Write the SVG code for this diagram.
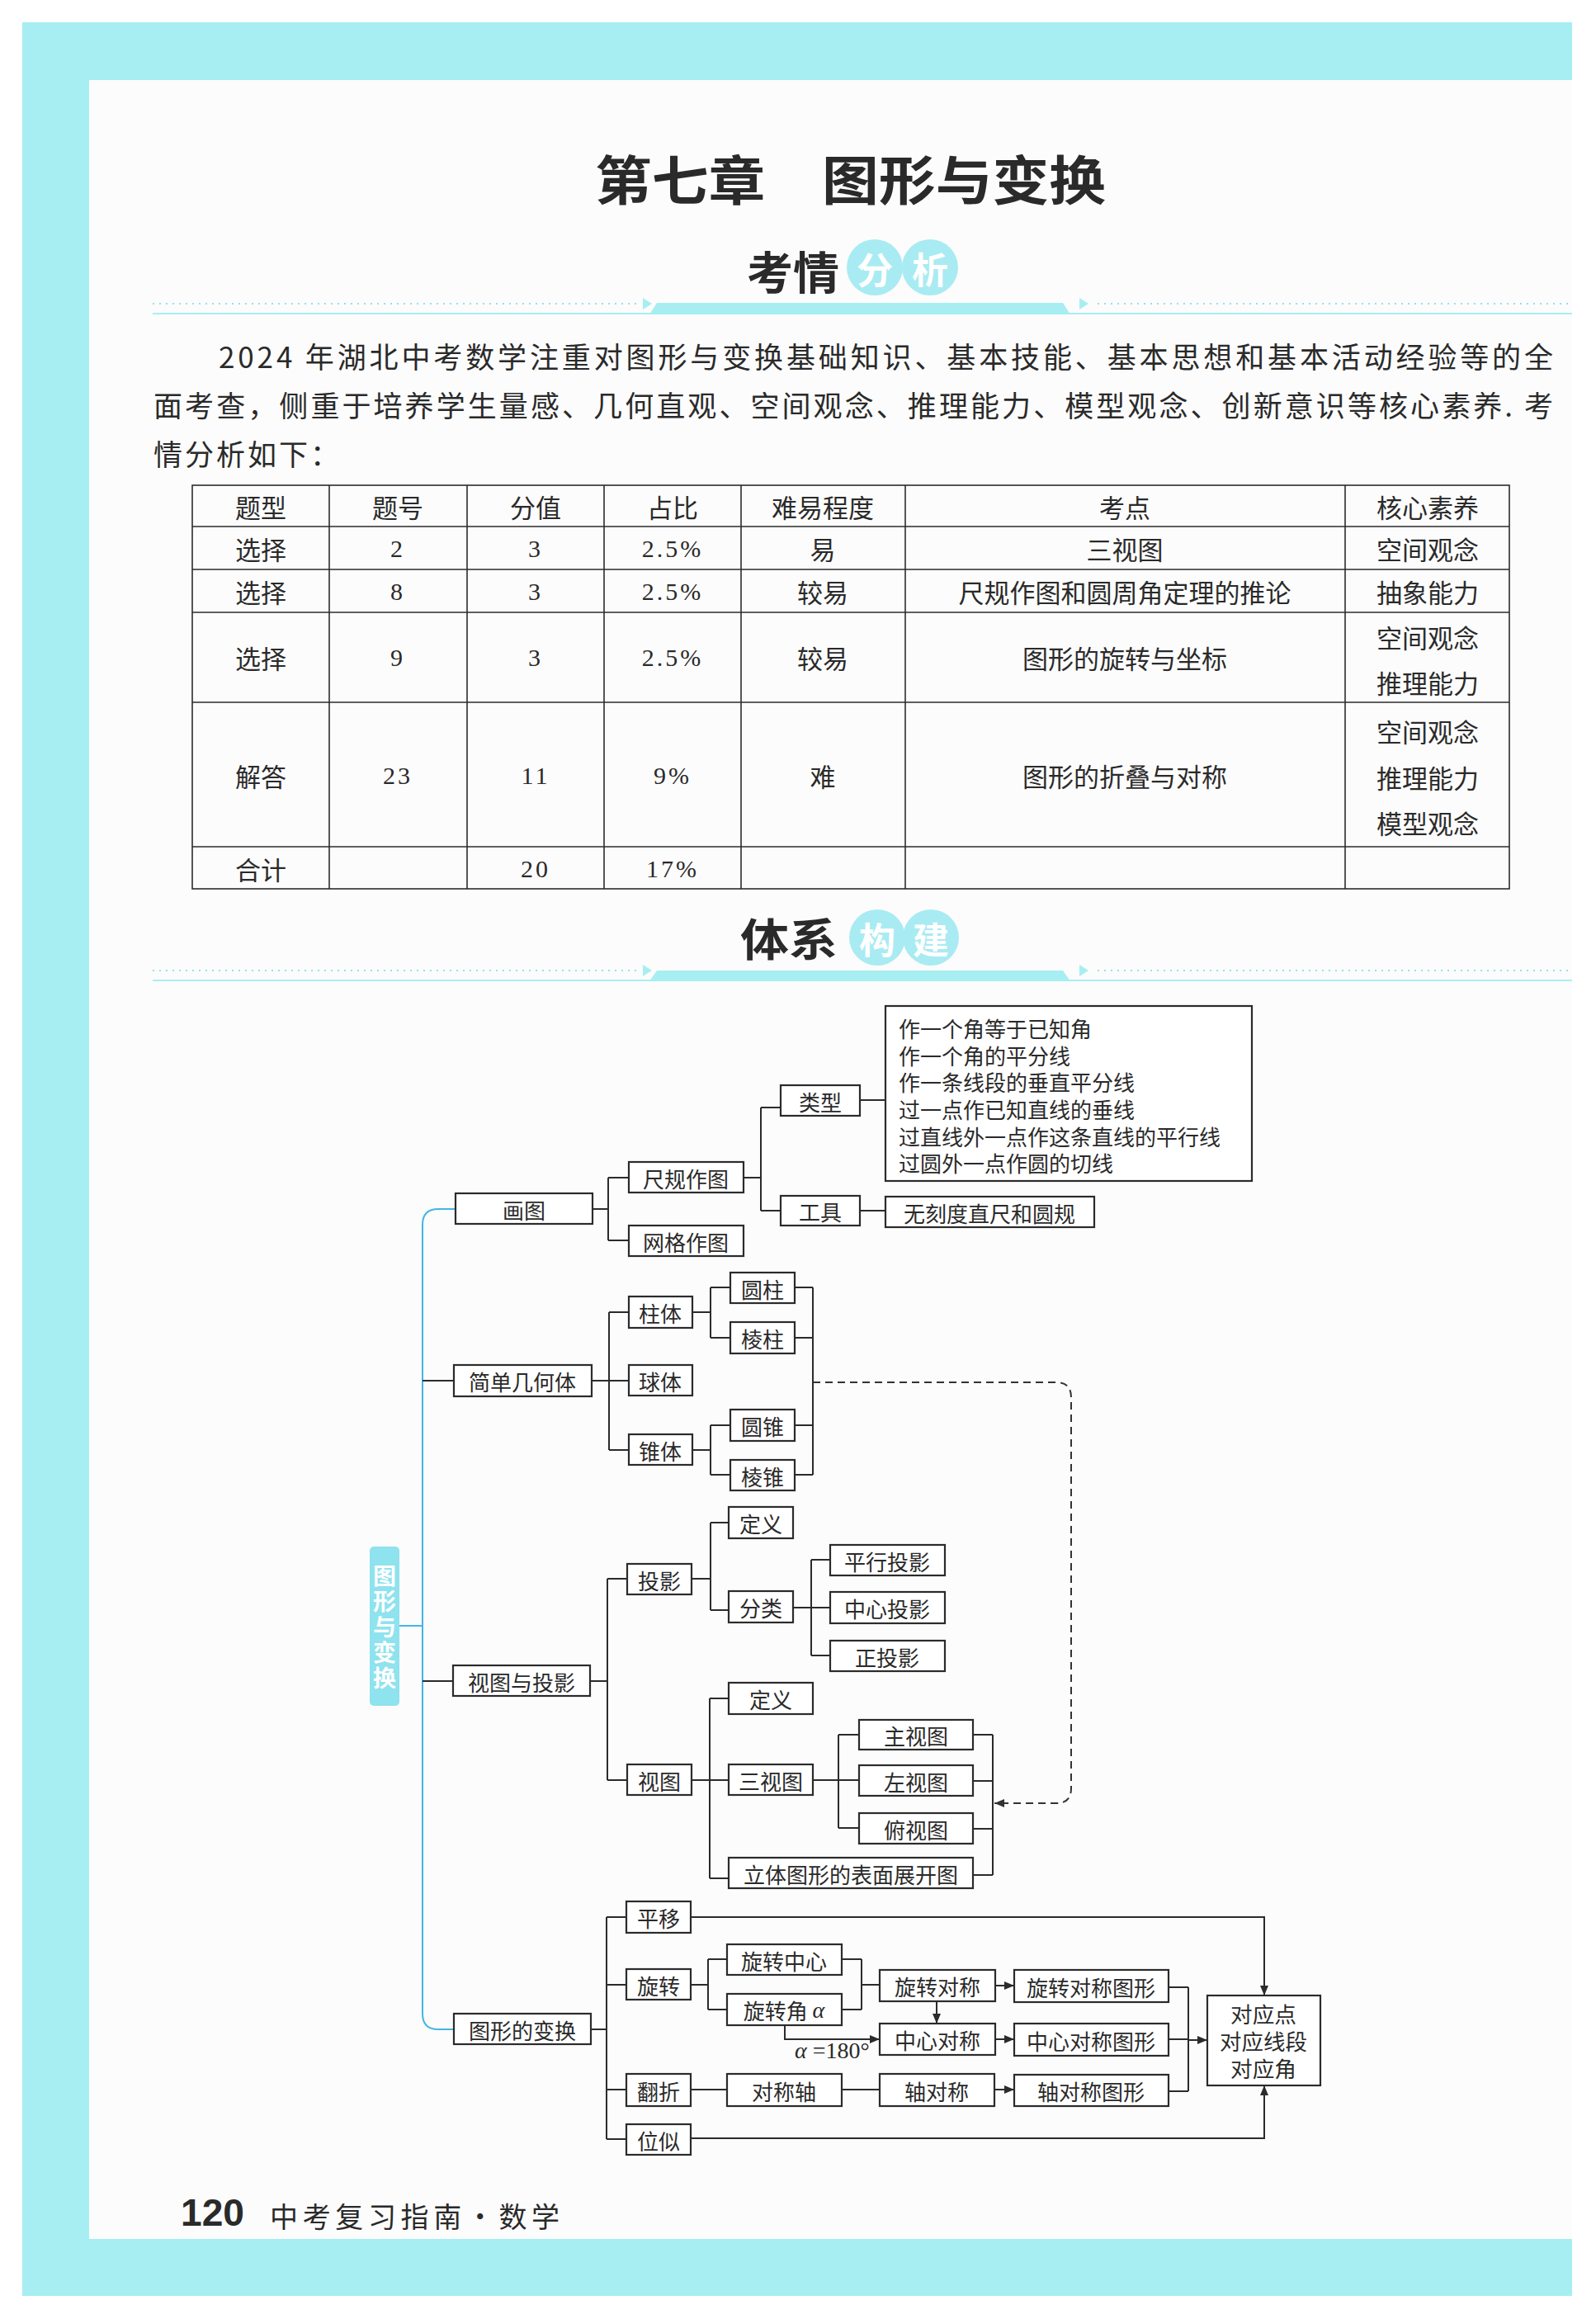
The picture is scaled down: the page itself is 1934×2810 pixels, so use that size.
<svg xmlns="http://www.w3.org/2000/svg" width="1934" height="2810" viewBox="0 0 1934 2810">
<defs>
<style>
.cjk{font-family:"Noto Sans CJK SC","Noto Sans",sans-serif}
.box{fill:#fff;stroke:#2b2b2b;stroke-width:2.2}
.t{font-family:"Noto Sans CJK SC","Noto Sans",sans-serif;font-size:26px;fill:#2a2a2a;text-anchor:middle;dominant-baseline:central}
.tl{font-family:"Noto Sans CJK SC","Noto Sans",sans-serif;font-size:26px;fill:#2a2a2a;dominant-baseline:central}
.ln{fill:none;stroke:#2b2b2b;stroke-width:2}
.dash{fill:none;stroke:#333;stroke-width:2;stroke-dasharray:9 6}
.blue{fill:none;stroke:#45b5e5;stroke-width:2}
.tb{fill:none;stroke:#2b2b2b;stroke-width:1.6}
.tc{font-family:"Noto Sans CJK SC","Noto Sans",sans-serif;font-size:31px;fill:#2a2a2a;text-anchor:middle;dominant-baseline:central}
.tn{font-family:"Liberation Serif",serif;font-size:30px;fill:#2a2a2a;text-anchor:middle;dominant-baseline:central;letter-spacing:3px}
.para{font-family:"Noto Sans CJK SC","Noto Sans",sans-serif;font-size:35px;fill:#2a2a2a;dominant-baseline:central}
.dot{fill:none;stroke:#8fe3ee;stroke-width:2;stroke-dasharray:2 6}
.cy{fill:#a7eef3}
.circ{fill:#a9ebf2}
.wt{font-family:"Noto Sans CJK SC","Noto Sans",sans-serif;font-weight:bold;fill:#fff;text-anchor:middle;dominant-baseline:central}
.hd{font-family:"Noto Sans CJK SC","Noto Sans",sans-serif;font-weight:bold;fill:#2a2a2a;dominant-baseline:central}
</style>
<marker id="ah" viewBox="0 0 12 10" refX="12" refY="5" markerWidth="12" markerHeight="10" markerUnits="userSpaceOnUse" orient="auto">
<path d="M0,0 L12,5 L0,10 z" fill="#2b2b2b"/>
</marker>
<marker id="ahd" viewBox="0 0 12 10" refX="12" refY="5" markerWidth="12" markerHeight="10" markerUnits="userSpaceOnUse" orient="auto">
<path d="M0,0 L12,5 L0,10 z" fill="#333"/>
</marker>
</defs>

<!-- page background -->
<rect x="0" y="0" width="1934" height="2810" fill="#fff"/>
<rect x="27" y="27" width="1878" height="2755" class="cy"/>
<rect x="108" y="97" width="1797" height="2616" fill="#fcfcfc"/>

<!-- title -->
<g id="title">
<text x="721" y="214" class="hd" font-size="64" textLength="619" lengthAdjust="spacingAndGlyphs">第七章　图形与变换</text>
</g>

<!-- section header 1 -->
<g id="header-kaoqing">
<text x="905" y="327" class="hd" font-size="54" textLength="112" lengthAdjust="spacingAndGlyphs">考情</text>
<circle cx="1060" cy="324" r="34" class="circ"/>
<circle cx="1127" cy="324" r="34" class="circ"/>
<text x="1060" y="325" class="wt" font-size="44">分</text>
<text x="1127" y="325" class="wt" font-size="44">析</text>
<line x1="185" y1="368" x2="774" y2="368" class="dot"/>
<path d="M779,361 L790,368 L779,375 z" class="cy"/>
<path d="M796,367 L1288,367 L1297,381 L787,381 z" class="cy"/>
<path d="M1308,361 L1319,368 L1308,375 z" class="cy"/>
<line x1="1330" y1="368" x2="1905" y2="368" class="dot"/>
<line x1="185" y1="380" x2="1905" y2="380" stroke="#a7eef3" stroke-width="2"/>
</g>

<!-- paragraph -->
<g id="paragraph">
<text x="265" y="430" class="para" textLength="1617" lengthAdjust="spacing">2024 年湖北中考数学注重对图形与变换基础知识、基本技能、基本思想和基本活动经验等的全</text>
<text x="186" y="489" class="para" textLength="1696" lengthAdjust="spacing">面考查，侧重于培养学生量感、几何直观、空间观念、推理能力、模型观念、创新意识等核心素养. 考</text>
<text x="186" y="548" class="para" letter-spacing="3">情分析如下：</text>
</g>

<!-- table -->
<g id="table">
<rect x="233" y="588" width="1596" height="489" class="tb"/>
<line x1="233" y1="638" x2="1829" y2="638" class="tb"/>
<line x1="233" y1="690" x2="1829" y2="690" class="tb"/>
<line x1="233" y1="742" x2="1829" y2="742" class="tb"/>
<line x1="233" y1="851" x2="1829" y2="851" class="tb"/>
<line x1="233" y1="1026" x2="1829" y2="1026" class="tb"/>
<line x1="399" y1="588" x2="399" y2="1077" class="tb"/>
<line x1="566" y1="588" x2="566" y2="1077" class="tb"/>
<line x1="732" y1="588" x2="732" y2="1077" class="tb"/>
<line x1="898" y1="588" x2="898" y2="1077" class="tb"/>
<line x1="1097" y1="588" x2="1097" y2="1077" class="tb"/>
<line x1="1630" y1="588" x2="1630" y2="1077" class="tb"/>
<text x="316" y="613" class="tc">题型</text>
<text x="482" y="613" class="tc">题号</text>
<text x="649" y="613" class="tc">分值</text>
<text x="815" y="613" class="tc">占比</text>
<text x="997" y="613" class="tc">难易程度</text>
<text x="1363" y="613" class="tc">考点</text>
<text x="1730" y="613" class="tc">核心素养</text>
<text x="316" y="664" class="tc">选择</text>
<text x="482" y="664" class="tn">2</text>
<text x="649" y="664" class="tn">3</text>
<text x="815" y="664" class="tn">2.5%</text>
<text x="997" y="664" class="tc">易</text>
<text x="1363" y="664" class="tc">三视图</text>
<text x="1730" y="664" class="tc">空间观念</text>
<text x="316" y="716" class="tc">选择</text>
<text x="482" y="716" class="tn">8</text>
<text x="649" y="716" class="tn">3</text>
<text x="815" y="716" class="tn">2.5%</text>
<text x="997" y="716" class="tc">较易</text>
<text x="1363" y="716" class="tc">尺规作图和圆周角定理的推论</text>
<text x="1730" y="716" class="tc">抽象能力</text>
<text x="316" y="796" class="tc">选择</text>
<text x="482" y="796" class="tn">9</text>
<text x="649" y="796" class="tn">3</text>
<text x="815" y="796" class="tn">2.5%</text>
<text x="997" y="796" class="tc">较易</text>
<text x="1363" y="796" class="tc">图形的旋转与坐标</text>
<text x="1730" y="771" class="tc">空间观念</text>
<text x="1730" y="826" class="tc">推理能力</text>
<text x="316" y="939" class="tc">解答</text>
<text x="482" y="939" class="tn">23</text>
<text x="649" y="939" class="tn">11</text>
<text x="815" y="939" class="tn">9%</text>
<text x="997" y="939" class="tc">难</text>
<text x="1363" y="939" class="tc">图形的折叠与对称</text>
<text x="1730" y="885" class="tc">空间观念</text>
<text x="1730" y="941" class="tc">推理能力</text>
<text x="1730" y="996" class="tc">模型观念</text>
<text x="316" y="1052" class="tc">合计</text>
<text x="649" y="1052" class="tn">20</text>
<text x="815" y="1052" class="tn">17%</text>
</g>

<!-- section header 2 -->
<g id="header-tixi">
<text x="897" y="1135" class="hd" font-size="54" textLength="118" lengthAdjust="spacingAndGlyphs">体系</text>
<circle cx="1063" cy="1136" r="34" class="circ"/>
<circle cx="1128" cy="1136" r="34" class="circ"/>
<text x="1063" y="1137" class="wt" font-size="44">构</text>
<text x="1128" y="1137" class="wt" font-size="44">建</text>
<line x1="185" y1="1176" x2="774" y2="1176" class="dot"/>
<path d="M779,1169 L790,1176 L779,1183 z" class="cy"/>
<path d="M796,1176 L1288,1176 L1297,1189 L787,1189 z" class="cy"/>
<path d="M1308,1169 L1319,1176 L1308,1183 z" class="cy"/>
<line x1="1330" y1="1176" x2="1905" y2="1176" class="dot"/>
<line x1="185" y1="1188" x2="1905" y2="1188" stroke="#a7eef3" stroke-width="2"/>
</g>

<!-- connectors -->
<g id="connectors">
<path class="blue" d="M552,1465 H531 Q512,1465 512,1484 V2440 Q512,2459 531,2459 H550"/>
<path class="blue" d="M484,1970 H512"/>
<path class="ln" d="M512,1673 H550"/>
<path class="ln" d="M512,2037 H549"/>
<path class="ln" d="M718,1465 H737 M737,1427 V1503 M737,1427 H762 M737,1503 H762"/>
<path class="ln" d="M901,1427 H922 M922,1342 V1467 M922,1342 H946 M922,1467 H946"/>
<path class="ln" d="M1042,1333 H1073 M1042,1467 H1073"/>
<path class="ln" d="M717,1673 H738 M738,1590 V1757 M738,1590 H762 M738,1673 H762 M738,1757 H762"/>
<path class="ln" d="M839,1590 H861 M861,1560 V1621 M861,1560 H885 M861,1621 H885"/>
<path class="ln" d="M839,1757 H861 M861,1727 V1787 M861,1727 H885 M861,1787 H885"/>
<path class="ln" d="M963,1560 H985 M963,1621 H985 M963,1727 H985 M963,1787 H985 M985,1560 V1787"/>
<path class="dash" d="M985,1675 H1280 Q1298,1675 1298,1693 V2167 Q1298,2185 1280,2185 H1205" marker-end="url(#ahd)"/>
<path class="ln" d="M715,2037 H736 M736,1913 V2157 M736,1913 H760 M736,2157 H760"/>
<path class="ln" d="M838,1913 H861 M861,1845 V1951 M861,1845 H883 M861,1951 H883"/>
<path class="ln" d="M961,1948 H983 M983,1890 V2006 M983,1890 H1006 M983,1948 H1006 M983,2006 H1006"/>
<path class="ln" d="M838,2157 H860 M860,2058 V2276 M860,2058 H883 M860,2157 H883 M860,2276 H883"/>
<path class="ln" d="M985,2157 H1016 M1016,2102 V2215 M1016,2102 H1041 M1016,2157 H1041 M1016,2215 H1041"/>
<path class="ln" d="M1179,2102 H1203 M1179,2158 H1203 M1179,2216 H1203 M1179,2272 H1203 M1203,2102 V2272"/>
<path class="ln" d="M716,2459 H735 M735,2323 V2592 M735,2323 H759 M735,2405 H759 M735,2532 H759 M735,2592 H759"/>
<path class="ln" d="M837,2405 H858 M858,2374 V2435 M858,2374 H881 M858,2435 H881"/>
<path class="ln" d="M1020,2374 H1044 M1020,2435 H1044 M1044,2374 V2435 M1044,2405 H1066"/>
<path class="ln" d="M1206,2406 H1229" marker-end="url(#ah)"/>
<path class="ln" d="M1135,2425 V2452" marker-end="url(#ah)"/>
<path class="ln" d="M951,2454 V2471 H1066" marker-end="url(#ah)"/>
<path class="ln" d="M1206,2471 H1229" marker-end="url(#ah)"/>
<path class="ln" d="M837,2532 H881 M1020,2532 H1066"/>
<path class="ln" d="M1205,2532 H1229" marker-end="url(#ah)"/>
<path class="ln" d="M1416,2408 H1440 M1416,2471 H1440 M1416,2534 H1440 M1440,2408 V2534"/>
<path class="ln" d="M1440,2472 H1463" marker-end="url(#ah)"/>
<path class="ln" d="M837,2323 H1532 V2418" marker-end="url(#ah)"/>
<path class="ln" d="M837,2591 H1532 V2527" marker-end="url(#ah)"/>
</g>

<!-- nodes -->
<g id="n-label"><rect x="448" y="1874" width="36" height="193" rx="5" fill="#8ee3ee"/>
<text x="466" y="1895" class="cjk" font-weight="bold" font-size="28" fill="#fff" writing-mode="vertical-rl" letter-spacing="3">图形与变换</text></g>

<g id="n-huatu"><rect x="552" y="1446" width="166" height="37" class="box"/><text x="635" y="1465" class="t">画图</text></g>
<g id="n-chigui"><rect x="762" y="1408" width="139" height="37" class="box"/><text x="831" y="1427" class="t">尺规作图</text></g>
<g id="n-wangge"><rect x="762" y="1485" width="139" height="37" class="box"/><text x="831" y="1504" class="t">网格作图</text></g>
<g id="n-leixing"><rect x="946" y="1315" width="96" height="37" class="box"/><text x="994" y="1334" class="t">类型</text></g>
<g id="n-gongju"><rect x="946" y="1449" width="96" height="36" class="box"/><text x="994" y="1467" class="t">工具</text></g>
<g id="n-list"><rect x="1073" y="1219" width="444" height="212" class="box"/>
<text x="1089" y="1245" class="tl">作一个角等于已知角</text>
<text x="1089" y="1278" class="tl">作一个角的平分线</text>
<text x="1089" y="1310" class="tl">作一条线段的垂直平分线</text>
<text x="1089" y="1343" class="tl">过一点作已知直线的垂线</text>
<text x="1089" y="1376" class="tl">过直线外一点作这条直线的平行线</text>
<text x="1089" y="1408" class="tl">过圆外一点作圆的切线</text></g>
<g id="n-tool"><rect x="1073" y="1450" width="253" height="37" class="box"/><text x="1199" y="1469" class="t">无刻度直尺和圆规</text></g>

<g id="n-jihe"><rect x="550" y="1654" width="167" height="38" class="box"/><text x="633" y="1673" class="t">简单几何体</text></g>
<g id="n-zhuti"><rect x="762" y="1571" width="77" height="38" class="box"/><text x="800" y="1590" class="t">柱体</text></g>
<g id="n-qiuti"><rect x="762" y="1654" width="77" height="37" class="box"/><text x="800" y="1673" class="t">球体</text></g>
<g id="n-zhui"><rect x="762" y="1738" width="77" height="37" class="box"/><text x="800" y="1757" class="t">锥体</text></g>
<g id="n-yuanzhu"><rect x="885" y="1542" width="78" height="37" class="box"/><text x="924" y="1561" class="t">圆柱</text></g>
<g id="n-lengzhu"><rect x="885" y="1602" width="78" height="38" class="box"/><text x="924" y="1621" class="t">棱柱</text></g>
<g id="n-yuanzhui"><rect x="885" y="1708" width="78" height="38" class="box"/><text x="924" y="1727" class="t">圆锥</text></g>
<g id="n-lengzhui"><rect x="885" y="1769" width="78" height="37" class="box"/><text x="924" y="1788" class="t">棱锥</text></g>

<g id="n-shitu-touying"><rect x="549" y="2018" width="166" height="37" class="box"/><text x="632" y="2037" class="t">视图与投影</text></g>
<g id="n-touying"><rect x="760" y="1895" width="78" height="37" class="box"/><text x="799" y="1914" class="t">投影</text></g>
<g id="n-shitu"><rect x="760" y="2138" width="78" height="37" class="box"/><text x="799" y="2157" class="t">视图</text></g>
<g id="n-dingyi1"><rect x="883" y="1826" width="78" height="38" class="box"/><text x="922" y="1845" class="t">定义</text></g>
<g id="n-fenlei"><rect x="883" y="1928" width="78" height="38" class="box"/><text x="922" y="1947" class="t">分类</text></g>
<g id="n-pingxing"><rect x="1006" y="1872" width="139" height="37" class="box"/><text x="1075" y="1891" class="t">平行投影</text></g>
<g id="n-zhongxin"><rect x="1006" y="1929" width="139" height="38" class="box"/><text x="1075" y="1948" class="t">中心投影</text></g>
<g id="n-zheng"><rect x="1006" y="1988" width="139" height="37" class="box"/><text x="1075" y="2007" class="t">正投影</text></g>
<g id="n-dingyi2"><rect x="883" y="2039" width="102" height="38" class="box"/><text x="934" y="2058" class="t">定义</text></g>
<g id="n-sanshitu"><rect x="883" y="2138" width="102" height="37" class="box"/><text x="934" y="2157" class="t">三视图</text></g>
<g id="n-zhankai"><rect x="883" y="2251" width="296" height="37" class="box"/><text x="1031" y="2270" class="t">立体图形的表面展开图</text></g>
<g id="n-zhu"><rect x="1041" y="2084" width="138" height="36" class="box"/><text x="1110" y="2102" class="t">主视图</text></g>
<g id="n-zuo"><rect x="1041" y="2139" width="138" height="37" class="box"/><text x="1110" y="2158" class="t">左视图</text></g>
<g id="n-fu"><rect x="1041" y="2197" width="138" height="37" class="box"/><text x="1110" y="2216" class="t">俯视图</text></g>

<g id="n-bianhuan"><rect x="550" y="2440" width="166" height="37" class="box"/><text x="633" y="2459" class="t">图形的变换</text></g>
<g id="n-pingyi"><rect x="759" y="2304" width="78" height="38" class="box"/><text x="798" y="2323" class="t">平移</text></g>
<g id="n-xuanzhuan"><rect x="759" y="2386" width="78" height="37" class="box"/><text x="798" y="2405" class="t">旋转</text></g>
<g id="n-fanzhe"><rect x="759" y="2513" width="78" height="39" class="box"/><text x="798" y="2533" class="t">翻折</text></g>
<g id="n-weisi"><rect x="759" y="2574" width="78" height="37" class="box"/><text x="798" y="2593" class="t">位似</text></g>
<g id="n-xzzx"><rect x="881" y="2356" width="139" height="37" class="box"/><text x="950" y="2375" class="t">旋转中心</text></g>
<g id="n-xzj"><rect x="881" y="2416" width="139" height="38" class="box"/><text x="950" y="2435" class="t">旋转角 <tspan font-family="Liberation Serif" font-style="italic" font-size="28">α</tspan></text></g>
<g id="n-xzdc"><rect x="1066" y="2387" width="140" height="38" class="box"/><text x="1136" y="2406" class="t">旋转对称</text></g>
<g id="n-xzdctx"><rect x="1229" y="2387" width="187" height="39" class="box"/><text x="1322" y="2407" class="t">旋转对称图形</text></g>
<g id="n-zxdc"><rect x="1066" y="2452" width="140" height="38" class="box"/><text x="1136" y="2471" class="t">中心对称</text></g>
<g id="n-zxdctx"><rect x="1229" y="2452" width="187" height="39" class="box"/><text x="1322" y="2472" class="t">中心对称图形</text></g>
<g id="n-dcz"><rect x="881" y="2513" width="139" height="39" class="box"/><text x="950" y="2533" class="t">对称轴</text></g>
<g id="n-zdc"><rect x="1066" y="2513" width="139" height="39" class="box"/><text x="1135" y="2533" class="t">轴对称</text></g>
<g id="n-zdctx"><rect x="1229" y="2514" width="187" height="38" class="box"/><text x="1322" y="2533" class="t">轴对称图形</text></g>
<g id="n-duiying"><rect x="1463" y="2418" width="137" height="109" class="box"/>
<text x="1531" y="2439" class="t" font-size="24" textLength="80" lengthAdjust="spacingAndGlyphs">对应点</text>
<text x="1531" y="2472" class="t" font-size="24" textLength="106" lengthAdjust="spacingAndGlyphs">对应线段</text>
<text x="1531" y="2505" class="t" font-size="24" textLength="80" lengthAdjust="spacingAndGlyphs">对应角</text></g>
<g id="lbl-alpha"><text x="963" y="2494" font-family="Liberation Serif,serif" font-size="28" fill="#2a2a2a"><tspan font-style="italic">α</tspan> =180°</text></g>

<!-- footer -->
<g id="footer">
<text x="219" y="2697" font-family="Liberation Sans,Arial,sans-serif" font-weight="bold" font-size="46" fill="#2a2a2a" textLength="77" lengthAdjust="spacingAndGlyphs">120</text>
<text x="327" y="2684" class="cjk" font-size="34" fill="#2a2a2a" dominant-baseline="central" textLength="351" lengthAdjust="spacing">中考复习指南·数学</text>
</g>
</svg>
